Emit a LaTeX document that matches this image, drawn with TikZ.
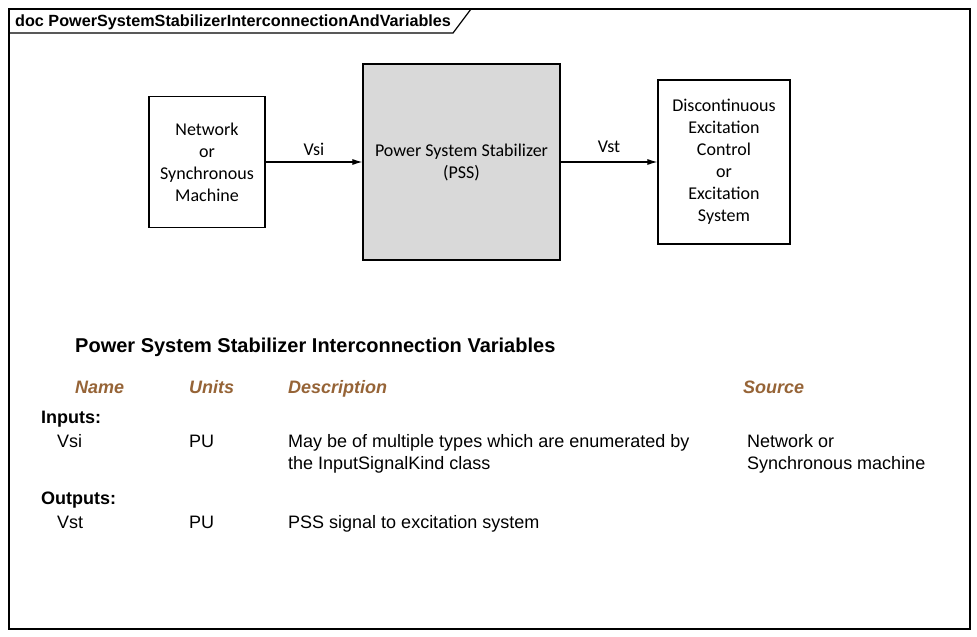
\documentclass[tikz,border=0pt]{standalone}
\usepackage{fontspec}
\setmainfont{Liberation Sans}
\newfontfamily\boxfont{Carlito}
\usetikzlibrary{arrows.meta}
\definecolor{headbrown}{RGB}{150,100,55}
\definecolor{pssgray}{RGB}{217,217,217}

\begin{document}
\begin{tikzpicture}[x=1pt,y=-1pt,
        block/.style={draw,line width=1.2pt,align=center,inner sep=0pt,
            font=\boxfont\fontsize{18}{22}\selectfont},
        siglabel/.style={inner sep=0pt,font=\boxfont\fontsize{18}{22}\selectfont},
        colhead/.style={anchor=base west,inner sep=0pt,text=headbrown,
            font=\fontsize{18}{22}\selectfont\bfseries\itshape},
        grouphead/.style={anchor=base west,inner sep=0pt,
            font=\fontsize{18}{22}\selectfont\bfseries},
        cell/.style={anchor=base west,inner sep=0pt,font=\fontsize{18}{22}\selectfont}]
        \useasboundingbox (0,0) rectangle (977,637);

        % frame and tab
        \draw[line width=1.2pt] (9,9) rectangle (970,629);
        \draw[line width=1.2pt] (9,33) -- (453,33) -- (471,9);
        \node[anchor=base west,inner sep=0pt,font=\fontsize{16.2}{18}\selectfont\bfseries]
            (doctitle) at (15,26) {doc PowerSystemStabilizerInterconnectionAndVariables};

        % blocks
        \node[block,minimum width=116pt,minimum height=131pt] (net) at (207,162)
            {Network\\or\\Synchronous\\Machine};
        \node[block,fill=pssgray,minimum width=197pt,minimum height=196pt] (pss) at (461.5,162)
            {Power System Stabilizer\\(PSS)};
        \node[block,minimum width=132pt,minimum height=164pt] (exc) at (724,162)
            {Discontinuous\\Excitation\\Control\\or\\Excitation\\System};

        \draw[->,>={Latex[length=10pt,width=6pt]},line width=1.1pt] (net) -- (pss)
            node[siglabel,midway,above=6pt] (vsilabel) {Vsi};
        \draw[->,>={Latex[length=10pt,width=6pt]},line width=1.1pt] (pss) -- (exc)
            node[siglabel,midway,above=9pt] (vstlabel) {Vst};

        % variables table
        \node[anchor=base west,inner sep=0pt,font=\fontsize{20}{24}\selectfont\bfseries]
            (tabtitle) at (75,352) {Power System Stabilizer Interconnection Variables};

        \node[colhead] (hname) at (75,393) {Name};
        \node[colhead] (hunits) at (189,393) {Units};
        \node[colhead] (hdesc) at (288,393) {Description};
        \node[colhead] (hsource) at (743,393) {Source};

        \node[grouphead] (inputs) at (41,423) {Inputs:};
        \node[cell] (vsiname) at (57,447) {Vsi};
        \node[cell] (vsiunits) at (189,447) {PU};
        \node[cell] (vsidesc) at (288,447) {May be of multiple types which are enumerated by};
        \node[cell] (vsidescb) at (288,469) {the InputSignalKind class};
        \node[cell] (vsisource) at (747,447) {Network or};
        \node[cell] (vsisourceb) at (747,469) {Synchronous machine};

        \node[grouphead] (outputs) at (41,504) {Outputs:};
        \node[cell] (vstname) at (57,528) {Vst};
        \node[cell] (vstunits) at (189,528) {PU};
        \node[cell] (vstdesc) at (288,528) {PSS signal to excitation system};
\end{tikzpicture}
\end{document}
